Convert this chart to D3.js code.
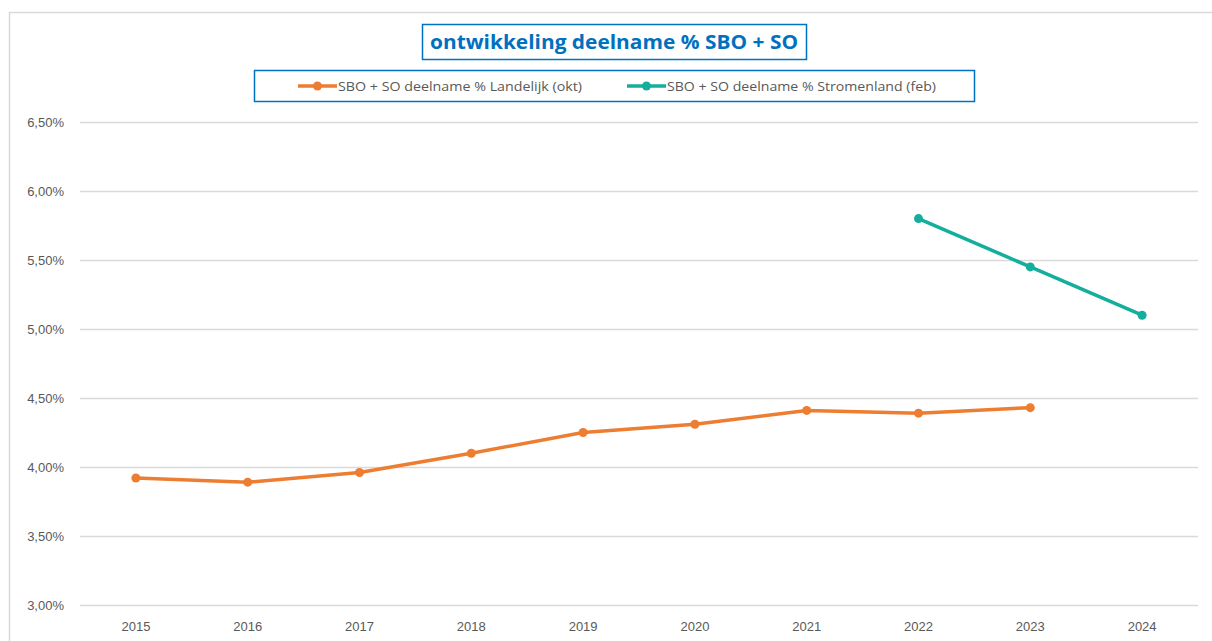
<!DOCTYPE html>
<html>
<head>
<meta charset="utf-8">
<script src="https://cdn.jsdelivr.net/npm/d3@7"></script>
<style>
  body { margin: 0; background: #fff; }
  svg { display: block; }
</style>
</head>
<body>
<div id="chart"></div>
<script>
var years = ["2015", "2016", "2017", "2018", "2019", "2020", "2021", "2022", "2023", "2024"];
var landelijk = [3.92, 3.89, 3.96, 4.10, 4.25, 4.31, 4.41, 4.39, 4.43, null];
var stromenland = [null, null, null, null, null, null, null, 5.80, 5.45, 5.10];
var yTicks = [3.0, 3.5, 4.0, 4.5, 5.0, 5.5, 6.0, 6.5];
var seriesNames = ["SBO + SO deelname % Landelijk (okt)", "SBO + SO deelname % Stromenland (feb)"];
var seriesColors = ["#ED7D31", "#13AE9C"];
var title = "ontwikkeling deelname % SBO + SO";

var W = 1212, H = 641;
var margin = { top: 122, bottom: 36, left: 80, right: 14 };
var width = W - margin.left - margin.right;
var height = H - margin.top - margin.bottom;

var svg = d3.select("#chart").append("svg")
    .attr("width", W)
    .attr("height", H);

// chart frame
svg.append("rect")
    .attr("x", 9.5).attr("y", 12.5)
    .attr("width", W + 10).attr("height", H + 10)
    .attr("fill", "none")
    .attr("stroke", "#d9d9d9")
    .attr("stroke-width", 1.5);

var xScale = d3.scaleBand().domain(years).range([0, width]);
var yScale = d3.scaleLinear().domain([3.0, 6.5]).range([height, 0]);

var g = svg.append("g")
    .attr("transform", "translate(" + margin.left + "," + margin.top + ")");

// gridlines
g.selectAll("line.grid")
    .data(yTicks)
    .enter().append("line")
    .attr("class", "grid")
    .attr("x1", 0).attr("x2", width)
    .attr("y1", function(d) { return yScale(d) + 0.5; })
    .attr("y2", function(d) { return yScale(d) + 0.5; })
    .attr("stroke", "#d9d9d9")
    .attr("stroke-width", 1.3);

// Y axis labels
var fmt = function(d) { return d.toFixed(2).replace(".", ",") + "%"; };
var yAxis = g.append("g")
    .call(d3.axisLeft(yScale).tickValues(yTicks).tickFormat(fmt).tickSize(0).tickPadding(16));
yAxis.select(".domain").remove();
yAxis.selectAll("text")
    .attr("font-family", "Liberation Sans, Arial, sans-serif")
    .attr("font-size", 13)
    .attr("fill", "#595959");

// X axis labels
var xAxis = g.append("g")
    .attr("transform", "translate(0," + height + ")")
    .call(d3.axisBottom(xScale).tickSize(0).tickPadding(17));
xAxis.select(".domain").remove();
xAxis.selectAll("text")
    .attr("font-family", "Liberation Sans, Arial, sans-serif")
    .attr("font-size", 13)
    .attr("fill", "#595959");

var cx = function(i) { return xScale(years[i]) + xScale.bandwidth() / 2; };

[landelijk, stromenland].forEach(function(values, s) {
    var pts = values.map(function(v, i) { return { i: i, v: v }; })
        .filter(function(d) { return d.v !== null; });

    var line = d3.line()
        .x(function(d) { return cx(d.i); })
        .y(function(d) { return yScale(d.v); });

    g.append("path")
        .datum(pts)
        .attr("d", line)
        .attr("fill", "none")
        .attr("stroke", seriesColors[s])
        .attr("stroke-width", 3.5)
        .attr("stroke-linejoin", "round");

    g.selectAll("circle.s" + s)
        .data(pts)
        .enter().append("circle")
        .attr("class", "s" + s)
        .attr("cx", function(d) { return cx(d.i); })
        .attr("cy", function(d) { return yScale(d.v); })
        .attr("r", 4.5)
        .attr("fill", seriesColors[s]);
});

// Title
svg.append("rect")
    .attr("x", 422.5).attr("y", 24.5)
    .attr("width", 384).attr("height", 35)
    .attr("fill", "#fff")
    .attr("stroke", "#0070C0")
    .attr("stroke-width", 1.5);

svg.append("text")
    .attr("x", 614).attr("y", 49)
    .attr("text-anchor", "middle")
    .attr("font-family", "Open Sans, sans-serif")
    .attr("font-weight", "bold")
    .attr("font-size", 19.5)
    .attr("fill", "#0070C0")
    .attr("textLength", 368)
    .attr("lengthAdjust", "spacingAndGlyphs")
    .text(title);

// Legend
svg.append("rect")
    .attr("x", 254.5).attr("y", 70.5)
    .attr("width", 720).attr("height", 31)
    .attr("fill", "#fff")
    .attr("stroke", "#0070C0")
    .attr("stroke-width", 1.5);

var legendX = [298, 627];
var legendW = [244, 269];
var legend = svg.selectAll("g.legend")
    .data(seriesNames)
    .enter().append("g")
    .attr("class", "legend")
    .attr("transform", function(d, i) { return "translate(" + legendX[i] + ",86)"; });

legend.append("line")
    .attr("x1", 0).attr("x2", 39)
    .attr("y1", 0).attr("y2", 0)
    .attr("stroke", function(d, i) { return seriesColors[i]; })
    .attr("stroke-width", 3.5);

legend.append("circle")
    .attr("cx", 19.5).attr("cy", 0).attr("r", 4.5)
    .attr("fill", function(d, i) { return seriesColors[i]; });

legend.append("text")
    .attr("x", 40).attr("y", 0)
    .attr("dy", "0.35em")
    .attr("font-family", "Open Sans, sans-serif")
    .attr("font-size", 13)
    .attr("fill", "#595959")
    .attr("textLength", function(d, i) { return legendW[i]; })
    .attr("lengthAdjust", "spacingAndGlyphs")
    .text(function(d) { return d; });
</script>
</body>
</html>
